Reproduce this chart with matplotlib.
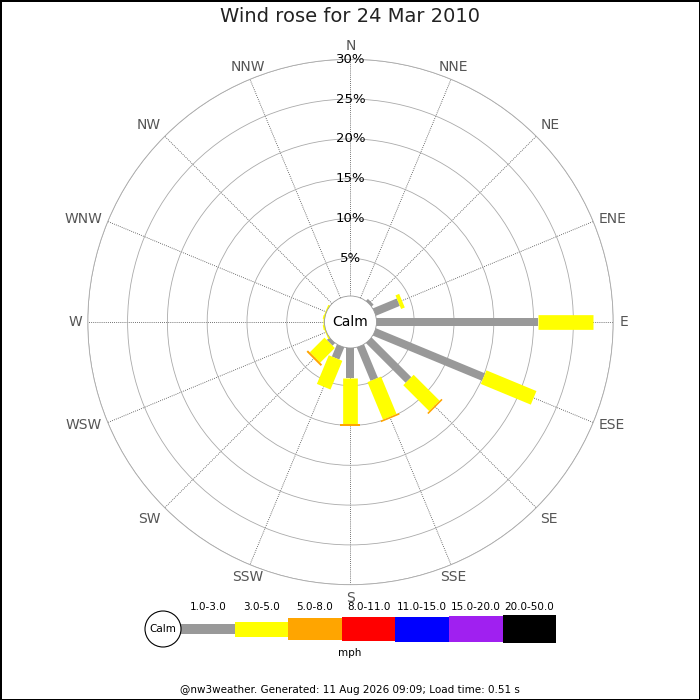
import numpy as np
import matplotlib
matplotlib.use("Agg")
import matplotlib.pyplot as plt
from matplotlib.patches import Circle

# wind rose data, % of time per direction and speed band
directions = ['N', 'NNE', 'NE', 'ENE', 'E', 'ESE', 'SE', 'SSE',
              'S', 'SSW', 'SW', 'WSW', 'W', 'WNW', 'NW', 'NNW']
speed_bins = ['1.0-3.0', '3.0-5.0', '5.0-8.0', '8.0-11.0',
              '11.0-15.0', '15.0-20.0', '20.0-50.0']
bin_colours = ['#999999', '#ffff00', '#ffa500', '#ff0000',
               '#0000ff', '#a020f0', '#000000']

pct_1_3 = [0, 0, 0.6, 3.5, 20.6, 15.1, 7.3, 4.8, 4.0, 1.9, 0.7, 0, 0, 0, 0, 0]
pct_3_5 = [0, 0, 0, 0.5, 6.9, 6.8, 4.6, 5.1, 5.8, 3.9, 2.6, 0.4, 0.4, 0.4, 0, 0]
pct_5_8 = [0, 0, 0, 0, 0, 0, 0.2, 0.2, 0.3, 0, 0.25, 0, 0, 0, 0, 0]
pct_8_11 = [0] * 16
pct_11_15 = [0] * 16
pct_15_20 = [0] * 16
pct_20_50 = [0] * 16

ring_ticks = [5, 10, 15, 20, 25, 30]
title = 'Wind rose for 24 Mar 2010'
footer = '@nw3weather. Generated: 11 Aug 2026 09:09; Load time: 0.51 s'

# bar thickness in pixels for each band (chart / legend)
bar_px = [8, 14.7, 20, 23, 25, 27, 28]
legend_px = [10, 15, 21.7, 23.3, 25, 26.7, 28]

fig = plt.figure(figsize=(7, 7), dpi=100)
fig.patch.set_edgecolor('black')
fig.patch.set_linewidth(2)

ax = fig.add_axes([0.1254, 0.1647, 0.7506, 0.7506], projection='polar')
ax.set_theta_zero_location('N')
ax.set_theta_direction(-1)
ax.set_ylim(0, 30)
ax.set_rorigin(-3.0)

angles = np.deg2rad(np.arange(16) * 22.5)
ax.set_xticks(angles)
ax.set_xticklabels([])
ax.set_yticks(ring_ticks)
ax.set_yticklabels([])
ax.tick_params(length=0)
ax.xaxis.grid(True, linestyle=(0, (1, 1.5)), color='#444444', linewidth=0.6)
ax.yaxis.grid(True, linestyle='-', color='#aaaaaa', linewidth=0.6)
ax.spines['polar'].set_color('#aaaaaa')
ax.spines['polar'].set_linewidth(0.6)

# stacked bars as thick radial lines so they keep a constant width
series = [pct_1_3, pct_3_5, pct_5_8, pct_8_11, pct_11_15, pct_15_20, pct_20_50]
cum = np.zeros(16)
for vals, col, px in zip(series, bin_colours, bar_px):
    vals = np.array(vals, dtype=float)
    for th, start, v in zip(angles, cum, vals):
        if v > 0:
            ax.plot([th, th], [start, start + v], color=col,
                    linewidth=px * 0.72, solid_capstyle='butt', zorder=3)
    cum = cum + vals

# calm circle in the middle
ax.add_patch(Circle((0.5, 0.5), 26 / 525.4, transform=ax.transAxes,
                    facecolor='white', edgecolor='#999999', linewidth=0.6,
                    zorder=5, clip_on=False))
ax.text(0.5, 0.5, 'Calm', transform=ax.transAxes, ha='center', va='center',
        fontsize=10, zorder=6)

# percentage labels along the north spoke
for r in ring_ticks:
    ax.text(0, r, f'{r}%', ha='center', va='center', fontsize=9.5,
            color='black', zorder=4)

# compass labels round the outside
for th, name in zip(angles, directions):
    s, c = np.sin(th), np.cos(th)
    ha = 'center' if abs(s) < 0.5 else ('left' if s > 0 else 'right')
    va = 'center' if abs(c) < 0.5 else ('bottom' if c > 0 else 'top')
    ax.text(th, 30.75, name, ha=ha, va=va, fontsize=10, color='#555555')

fig.text(0.5, 1 - 17 / 700, title, ha='center', va='center', fontsize=14,
         color='#222222')

# legend strip drawn in pixel coordinates
lg = fig.add_axes([0, 0, 1, 1])
lg.set_xlim(0, 700)
lg.set_ylim(700, 0)
lg.axis('off')

seg_w = 53.6
x_start = 181
mid_y = 629
xs = [x_start + seg_w * (i + 0.5) for i in range(len(speed_bins))]
heights = np.array(legend_px)
lg.bar(xs, heights, width=seg_w, bottom=mid_y - heights / 2,
       color=bin_colours, linewidth=0)
for x, lab in zip(xs, speed_bins):
    lg.text(x, 607, lab, ha='center', va='center', fontsize=7.5)
lg.add_patch(Circle((163, mid_y), 18, facecolor='white', edgecolor='black',
                    linewidth=0.8))
lg.text(163, mid_y, 'Calm', ha='center', va='center', fontsize=7.5)
lg.text(350, 653, 'mph', ha='center', va='center', fontsize=7.5)
lg.text(350, 690, footer, ha='center', va='center', fontsize=7.5)

fig.savefig('out.png', dpi=100, edgecolor='black')
